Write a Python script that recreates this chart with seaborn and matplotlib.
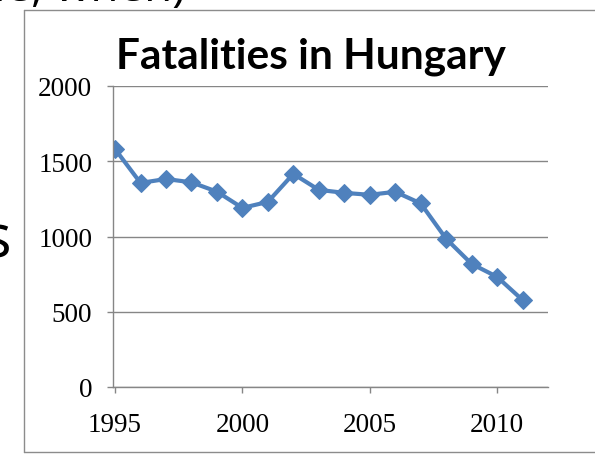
import matplotlib
matplotlib.use("Agg")
import matplotlib.pyplot as plt
from matplotlib.lines import Line2D
import seaborn as sns
import pandas as pd

# Road traffic fatalities in Hungary per year
years = [1995, 1996, 1997, 1998, 1999, 2000, 2001, 2002, 2003,
         2004, 2005, 2006, 2007, 2008, 2009, 2010, 2011]
fatalities = [1581, 1356, 1382, 1360, 1298, 1190, 1230, 1416, 1310,
              1290, 1277, 1297, 1220, 985, 818, 732, 578]
x_ticks = [1995, 2000, 2005, 2010]
y_ticks = [0, 500, 1000, 1500, 2000]

df = pd.DataFrame({"year": years, "fatalities": fatalities})

sns.set_theme(style="white")
plt.rcParams["font.family"] = ["Liberation Serif", "DejaVu Serif"]

W, H = 595, 456
fig = plt.figure(figsize=(W / 100, H / 100), dpi=100)
fig.patch.set_facecolor("white")

# slide text surrounding the chart object
fig.text(-6 / W, 1 - 1.5 / H, "le, when)", fontsize=33, color="black",
         family=["Open Sans", "DejaVu Sans"], ha="left", va="baseline")
fig.text(-17 / W, 1 - 257 / H, "s", fontsize=43, color="black",
         family=["Open Sans", "DejaVu Sans"], ha="left", va="baseline")

# chart frame (left, top and bottom edges; the right edge lies off the page)
frame_c = "#8c8c8c"
x0, y_top, y_bot = 23.5 / W, 1 - 10.5 / H, 1 - 452.5 / H
for xs, ys in [([x0, x0], [y_bot, y_top]),
               ([x0, 1.0], [y_top, y_top]),
               ([x0, 1.0], [y_bot, y_bot])]:
    fig.add_artist(Line2D(xs, ys, transform=fig.transFigure,
                          color=frame_c, linewidth=1.0))

ax = fig.add_axes([113 / W, 1 - 388 / H, (548 - 113) / W, (388 - 87) / H])
ax.set_facecolor("white")

sns.lineplot(data=df, x="year", y="fatalities", ax=ax, color="#4F81BD",
             linewidth=3.0, marker="D", markersize=9,
             markeredgecolor="#4F81BD", markerfacecolor="#4F81BD")

ax.set_xlim(1994.92, 2012.0)
ax.set_ylim(0, 2000)
ax.set_xticks(x_ticks)
ax.set_yticks(y_ticks)
ax.set_xticklabels([str(v) for v in x_ticks])
ax.set_yticklabels([str(v) for v in y_ticks])
ax.set_xlabel("")
ax.set_ylabel("")

grid_c = "#868686"
ax.yaxis.grid(True, color=grid_c, linewidth=1.0)
ax.xaxis.grid(False)
ax.set_axisbelow(True)
for side in ["top", "right"]:
    ax.spines[side].set_visible(False)
for side in ["left", "bottom"]:
    ax.spines[side].set_color(grid_c)
    ax.spines[side].set_linewidth(1.0)

ax.tick_params(axis="both", which="major", labelsize=19.5, colors="black",
               length=4, width=1.0, color=grid_c)
ax.tick_params(axis="y", pad=11, left=True)
ax.tick_params(axis="x", pad=14, bottom=True)

fig.text(311 / W, 1 - 69 / H, "Fatalities in Hungary", fontsize=30.5,
         fontweight="bold", color="black", family=["Lato", "DejaVu Sans"],
         ha="center", va="baseline")

fig.savefig("out.png", dpi=100, facecolor="white")
